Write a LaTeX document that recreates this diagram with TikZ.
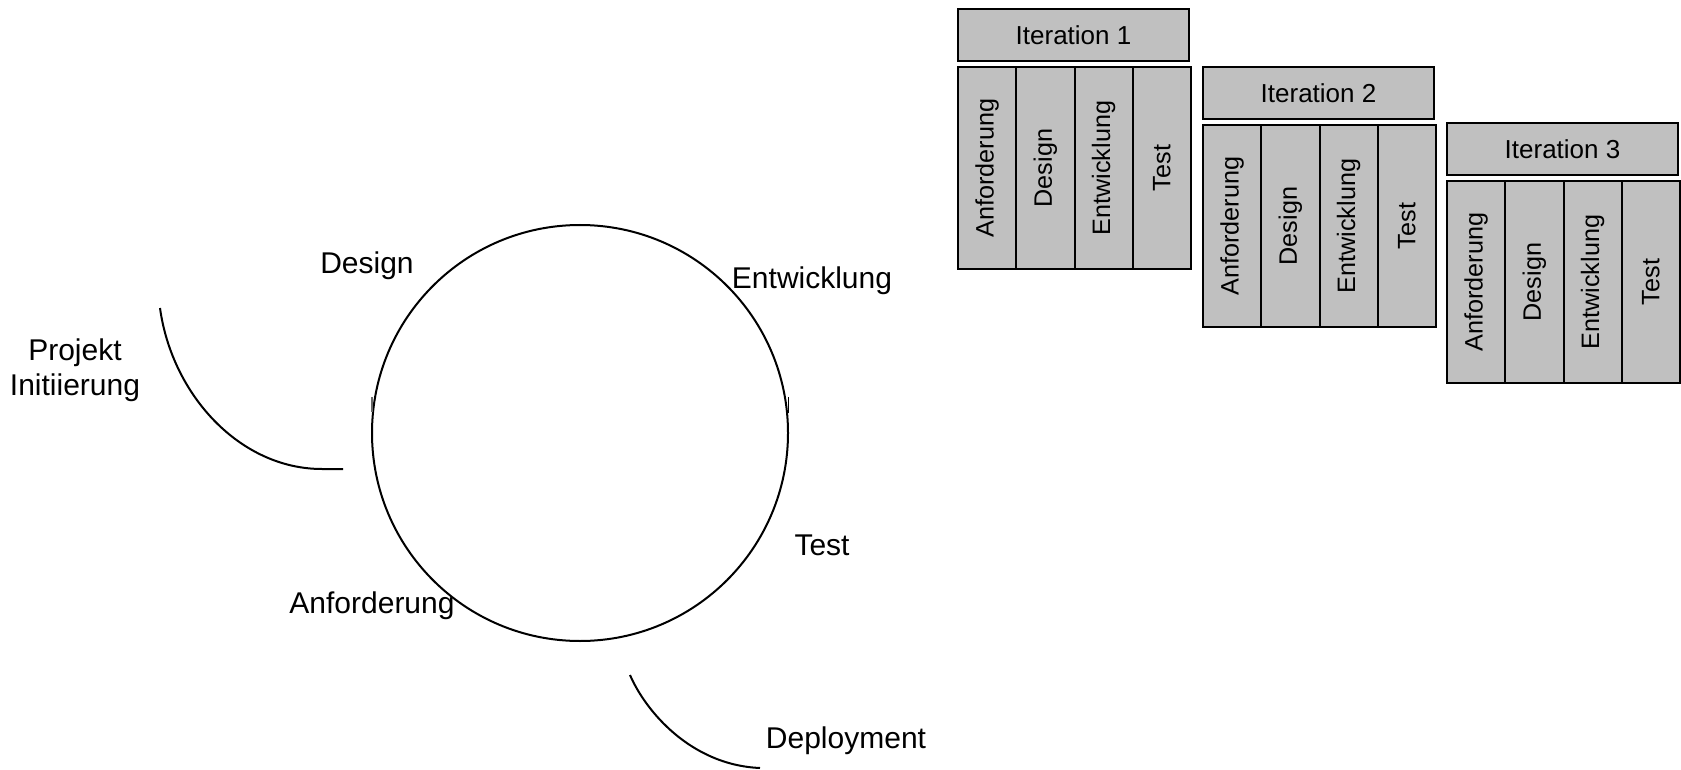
\documentclass[tikz,border=0pt]{standalone}
\usepackage{fontspec}
\setmainfont{Liberation Sans}
\definecolor{boxgray}{RGB}{192,192,192}
\tikzset{
  iterbox/.style={draw=black, line width=1pt, fill=boxgray},
  headtext/.style={font=\fontsize{13}{15}\selectfont},
  phasetext/.style={font=\fontsize{12.6}{14}\selectfont, rotate=90},
  cyclelabel/.style={font=\fontsize{15}{17.5}\selectfont, align=center},
  cycleline/.style={line width=1pt}
}
\begin{document}
\begin{tikzpicture}[x=0.5pt,y=-0.5pt]
  \useasboundingbox (0,0) rectangle (1681,770);
  % cycle
  \draw[cycleline] (580,433) circle (208);
  \draw[line width=0.8pt, black!60] (372,397) -- (372,412);
  \draw[line width=0.8pt] (788.5,397) -- (788.5,413);
  \node[cyclelabel] (design) at (367,266) {Design};
  \node[cyclelabel] (entw) at (812,281) {Entwicklung};
  \node[cyclelabel] (test) at (822,545) {Test};
  \node[cyclelabel] (anf) at (372,606) {Anforderung};
  \node[cyclelabel] (init) at (75,370) {Projekt\\Initiierung};
  \node[cyclelabel] (deploy) at (846,741) {Deployment};
  \draw[cycleline] (160,308) .. controls (172,395) and (240,469) .. (322,469) -- (343,469);
  \draw[cycleline] (630,675) .. controls (645,710) and (690,765) .. (760,768);
  % iterations
  \foreach \n/\dx/\dy in {1/0/0, 2/245/58, 3/489/114} {
    \begin{scope}[shift={(\dx,\dy)}]
      \draw[iterbox] (958,9) rectangle (1189,61);
      \node[headtext] (iter\n) at (1073.5,35) {Iteration \n};
      \foreach \p [count=\k from 0] in {Anforderung,Design,Entwicklung,Test} {
        \draw[iterbox] ({958+58.25*\k},67) rectangle ({1016.25+58.25*\k},269);
        \node[phasetext] (phase\n-\k) at ({987.1+58.25*\k},168) {\p};
      }
    \end{scope}
  }
\end{tikzpicture}
\end{document}
